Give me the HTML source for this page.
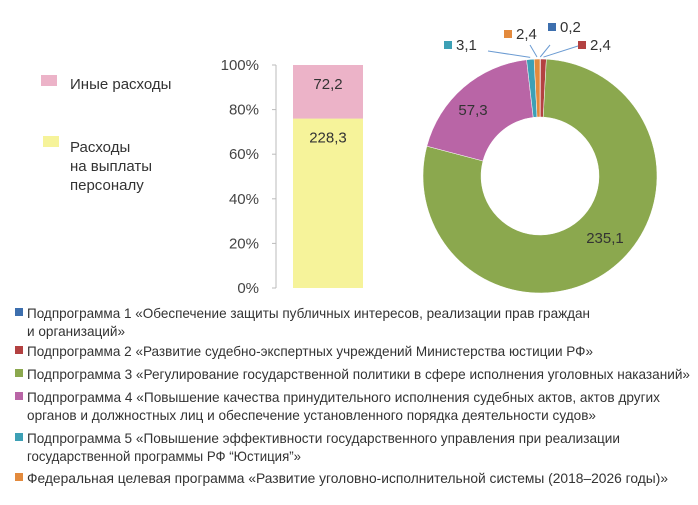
<!DOCTYPE html>
<html><head><meta charset="utf-8"><style>
body{margin:0;background:#fff;}
svg{display:block;font-family:"Liberation Sans Narrow","Liberation Sans",sans-serif;}
</style></head><body>
<svg id="c" width="698" height="505" viewBox="0 0 698 505" xmlns="http://www.w3.org/2000/svg">
<g id="bar"></g>
<g id="donut"></g>
<g id="leg"></g>
</svg>
<script>
const NS="http://www.w3.org/2000/svg";
const barCats=["Расходы на выплаты персоналу","Иные расходы"];
const barVals=[228.3,72.2];
const barLabels=["228,3","72,2"];
const barColors=["#f6f39a","#ecb3c8"];
const yTicks=[0,20,40,60,80,100];
const yTickLabels=["0%","20%","40%","60%","80%","100%"];
const pieCats=["Подпрограмма 1","Подпрограмма 2","Подпрограмма 3","Подпрограмма 4","Подпрограмма 5","ФЦП"];
const pieVals=[0.2,2.4,235.1,57.3,3.1,2.4];
const pieLabels=["0,2","2,4","235,1","57,3","3,1","2,4"];
const pieColors=["#3d6fae","#b34141","#8ba84e","#b965a6","#3da0b5","#e38a3d"];

function el(t,a,p){const e=document.createElementNS(NS,t);for(const k in a)e.setAttribute(k,a[k]);p.appendChild(e);return e;}
function tx(s,a,p){const e=el("text",a,p);e.textContent=s;return e;}

// bar chart
const B=document.getElementById("bar");
const y0=288,y1=65;
const yS=v=>y0-(v/100)*(y0-y1);
let ax=el("line",{x1:276,y1:y1,x2:276,y2:y0,stroke:"#bbb","stroke-width":1},B);


yTicks.forEach((t,i)=>{
  let tk=el("line",{x1:272,x2:276,y1:yS(t),y2:yS(t),stroke:"#bbb"},B);
  
  
  let l=tx(yTickLabels[i],{x:259,y:yS(t)+5,"text-anchor":"end","font-size":15,fill:"#444"},B);
  
  
});
const tot=barVals.reduce((a,b)=>a+b,0);
let acc=0;
barVals.forEach((v,i)=>{
  const p0=acc/tot*100,p1=(acc+v)/tot*100;acc+=v;
  let r=el("rect",{x:293,width:70,y:yS(p1),height:yS(p0)-yS(p1),fill:barColors[i]},B);
  
  
  let l=tx(barLabels[i],{x:328,y:yS(p1)+24,"text-anchor":"middle","font-size":15,fill:"#333"},B);
  
  
});
// bar legend
let s1=el("rect",{x:41,y:75,width:16,height:11,fill:barColors[1]},B);


let t1=tx("Иные расходы",{x:70,y:89,"font-size":15,fill:"#333"},B);


let s2=el("rect",{x:43,y:136,width:16,height:11,fill:barColors[0]},B);


["Расходы","на выплаты","персоналу"].forEach((s,i)=>{
  let t=tx(s,{x:70,y:152+i*19,"font-size":15,fill:"#333"},B);
  
  
});

// donut
const D=document.getElementById("donut");
const cx=540,cy=176,R=117,r0=59;
const ptot=pieVals.reduce((a,b)=>a+b,0);
function pt(a,r){return [cx+r*Math.sin(a),cy-r*Math.cos(a)];}
let a=0;
const mids=[];
pieVals.forEach((v,i)=>{
  const a2=a+v/ptot*2*Math.PI;
  const [x1,y1b]=pt(a,R),[x2,y2]=pt(a2,R),[x3,y3]=pt(a2,r0),[x4,y4]=pt(a,r0);
  const lg=(a2-a)>Math.PI?1:0;
  let p=el("path",{d:`M${x1} ${y1b}A${R} ${R} 0 ${lg} 1 ${x2} ${y2}L${x3} ${y3}A${r0} ${r0} 0 ${lg} 0 ${x4} ${y4}Z`,fill:pieColors[i],stroke:"#fff","stroke-width":0.5},D);
  
  
  mids.push((a+a2)/2);
  a=a2;
});
// big labels
[[2,[605,243]],[3,[473,115]]].forEach(([i,pos])=>{
  let l=tx(pieLabels[i],{x:pos[0],y:pos[1],"text-anchor":"middle","font-size":15,fill:"#333"},D);
  
  
});
// small labels with leader lines
const small=[[0,[583,25],[552,28]],[1,[597,50],[582,46]],[4,[458,50],[448,46]],[5,[521,39],[508,35]]];
small.forEach(([i,tp,sq])=>{
  const [lx,ly]=pt(mids[i],R+2);
  let ln=el("line",{x1:lx,y1:ly,x2:(i===0?550:i===1?578:i===4?488:530),y2:(i===0?45:i===1?46:i===4?51:45),stroke:"#6b9bd2","stroke-width":1},D);
  
  
  let s=el("rect",{x:sq[0]-4,y:sq[1]-5,width:8,height:8,fill:pieColors[i]},D);
  
  
  let l=tx(pieLabels[i],{x:sq[0]+8,y:sq[1]+4,"font-size":15,fill:"#333"},D);
  
  
});

// bottom legend
const L=document.getElementById("leg");
const legItems=[
 [0,[["Подпрограмма 1 «Обеспечение защиты публичных интересов, реализации прав граждан",318,563],["и организаций»",336,98]]],
 [1,[["Подпрограмма 2 «Развитие судебно-экспертных учреждений Министерства юстиции РФ»",356,566]]],
 [2,[["Подпрограмма 3 «Регулирование государственной политики в сфере исполнения уголовных наказаний»",379,663]]],
 [3,[["Подпрограмма 4 «Повышение качества принудительного исполнения судебных актов, актов других",402,633],["органов и должностных лиц и обеспечение установленного порядка деятельности судов»",420,569]]],
 [4,[["Подпрограмма 5 «Повышение эффективности государственного управления при реализации",443,593],["государственной программы РФ “Юстиция”»",461,274]]],
 [5,[["Федеральная целевая программа «Развитие уголовно-исполнительной системы (2018–2026 годы)»",483,641]]]
];
legItems.forEach(([ci,lines])=>{
  let s=el("rect",{x:15,y:lines[0][1]-10,width:8,height:8,fill:pieColors[ci]},L);
  
  
  lines.forEach(([t,y,w])=>{
    let e=tx(t,{x:27,y:y,"font-size":14,fill:"#333",textLength:w,lengthAdjust:"spacingAndGlyphs"},L);
    
    
  });
});
</script>
</body></html>
